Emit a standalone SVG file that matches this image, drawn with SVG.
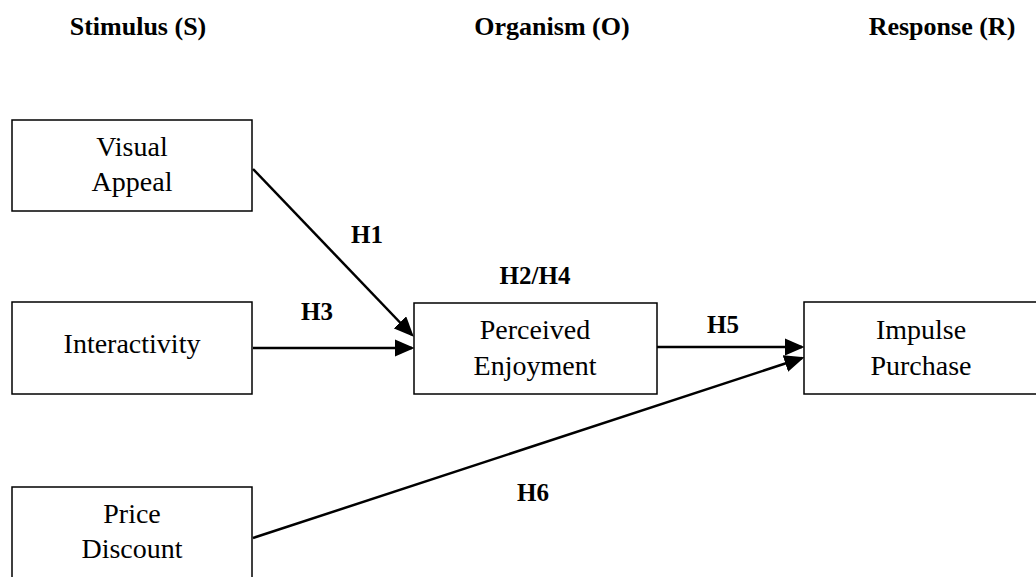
<svg xmlns="http://www.w3.org/2000/svg" width="1036" height="577" viewBox="0 0 1036 577">
<style>
.box{fill:#fff;stroke:#000;stroke-width:1.5}
.t{font-family:"Liberation Serif","Times New Roman",serif;font-size:28px;text-anchor:middle;fill:#000}
.h{font-family:"Liberation Serif","Times New Roman",serif;font-size:26px;font-weight:bold;text-anchor:middle;fill:#000}
.l{font-family:"Liberation Serif","Times New Roman",serif;font-size:25px;font-weight:bold;text-anchor:middle;fill:#000}
.c{stroke:#000;stroke-width:2.5;fill:none;marker-end:url(#arr)}
</style>
<defs>
<marker id="arr" markerWidth="8" markerHeight="7" refX="7" refY="3.5" orient="auto" markerUnits="strokeWidth">
<path d="M0,0 L8,3.5 L0,7 Z" fill="#000"/>
</marker>
</defs>
<rect width="1036" height="577" fill="#fff"/>
<g id="headings">
<text class="h" x="138" y="35">Stimulus (S)</text>
<text class="h" x="552" y="35">Organism (O)</text>
<text class="h" x="942" y="35">Response (R)</text>
</g>
<g id="connectors">
<line class="c" x1="253" y1="169" x2="412" y2="335"/>
<line class="c" x1="253" y1="348" x2="412" y2="348"/>
<line class="c" x1="657" y1="347" x2="802" y2="347"/>
<line class="c" x1="253" y1="538" x2="802" y2="358"/>
<text class="l" x="367" y="243">H1</text>
<text class="l" x="317" y="320">H3</text>
<text class="l" x="535" y="284">H2/H4</text>
<text class="l" x="723" y="333">H5</text>
<text class="l" x="533" y="501">H6</text>
</g>
<g id="visual-appeal">
<rect class="box" x="12" y="120" width="240" height="91"/>
<text class="t" x="132" y="156">Visual</text>
<text class="t" x="132" y="191">Appeal</text>
</g>
<g id="interactivity">
<rect class="box" x="12" y="302" width="240" height="92"/>
<text class="t" x="132" y="353">Interactivity</text>
</g>
<g id="price-discount">
<rect class="box" x="12" y="487" width="240" height="100"/>
<text class="t" x="132" y="523">Price</text>
<text class="t" x="132" y="558">Discount</text>
</g>
<g id="perceived-enjoyment">
<rect class="box" x="414" y="303" width="243" height="91"/>
<text class="t" x="535" y="339">Perceived</text>
<text class="t" x="535" y="375">Enjoyment</text>
</g>
<g id="impulse-purchase">
<rect class="box" x="804" y="302" width="240" height="92"/>
<text class="t" x="921" y="339">Impulse</text>
<text class="t" x="921" y="375">Purchase</text>
</g>
</svg>
